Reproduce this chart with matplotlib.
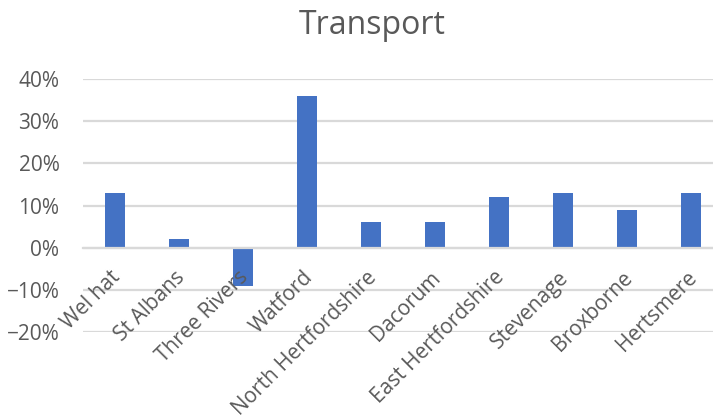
import matplotlib
matplotlib.use("Agg")
import matplotlib.pyplot as plt
import matplotlib.transforms as mtransforms
from matplotlib.ticker import PercentFormatter

plt.rcParams['font.family'] = ['Open Sans', 'DejaVu Sans']

districts = ['Wel hat', 'St Albans', 'Three Rivers', 'Watford', 'North Hertfordshire',
             'Dacorum', 'East Hertfordshire', 'Stevenage', 'Broxborne', 'Hertsmere']
change = [0.13, 0.02, -0.09, 0.36, 0.06, 0.06, 0.12, 0.13, 0.09, 0.13]
yticks = [-0.2, -0.1, 0.0, 0.1, 0.2, 0.3, 0.4]

grey = '#595959'
fig = plt.figure(figsize=(7.13, 4.17), dpi=100)
ax = fig.add_axes([83/713, 85/417, 640/713, 253/417])

x = range(len(districts))
ax.bar(x, change, width=0.31, color='#4472C4', zorder=2)

ax.set_xlim(-0.5, len(districts) - 0.5)
ax.set_ylim(-0.2, 0.4)
ax.set_yticks(yticks)
ax.yaxis.set_major_formatter(PercentFormatter(1.0, decimals=0))
ax.grid(axis='y', color='#D9D9D9', linewidth=1.6, zorder=0)

for s in ['top', 'right', 'left']:
    ax.spines[s].set_visible(False)
ax.spines['bottom'].set_position(('data', 0))
ax.spines['bottom'].set_color('#D9D9D9')
ax.spines['bottom'].set_linewidth(1.6)

ax.set_xticks(list(x))
ax.set_xticklabels(districts, rotation=45, ha='right', rotation_mode='anchor')
ax.tick_params(axis='x', length=0, pad=14, labelsize=15, labelcolor=grey)
ax.tick_params(axis='y', length=0, pad=17, labelsize=15, labelcolor=grey)
ax.xaxis.set_zorder(5)
shift = mtransforms.ScaledTranslation(-5/100, 0, fig.dpi_scale_trans)
for lab in ax.get_xticklabels():
    lab.set_transform(lab.get_transform() + shift)

fig.text(372/713, 1 - 25/417, 'Transport', ha='center', va='center', fontsize=23, color=grey)

fig.savefig('out.png', dpi=100)
